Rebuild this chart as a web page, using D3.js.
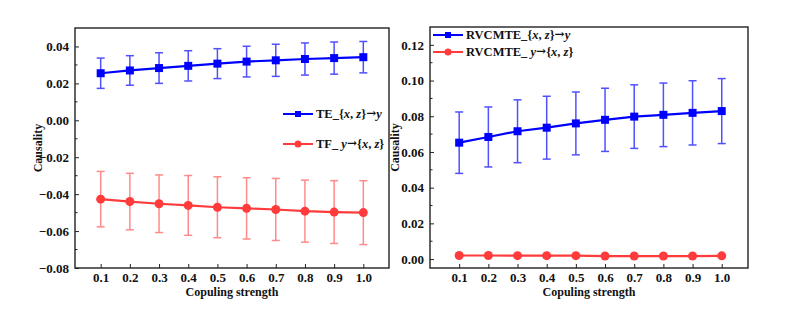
<!DOCTYPE html>
<html><head><meta charset="utf-8">
<script src="https://cdn.jsdelivr.net/npm/d3@7"></script>
<style>
body{margin:0;background:#fff;}
svg{display:block;}
svg text{font-family:"Liberation Serif","Times New Roman",serif !important;font-weight:bold;fill:#111;}
</style></head><body>
<svg id="c" width="794" height="317"></svg>
<script>
const couplings = [0.1,0.2,0.3,0.4,0.5,0.6,0.7,0.8,0.9,1.0];
const xTickLabels = ["0.1","0.2","0.3","0.4","0.5","0.6","0.7","0.8","0.9","1.0"];

// Left panel: TE
const teXZtoY = [0.0255,0.0270,0.0283,0.0295,0.0307,0.0318,0.0325,0.0332,0.0337,0.0342];
const teXZtoYErr = [0.0082,0.0080,0.0083,0.0082,0.0081,0.0083,0.0087,0.0087,0.0087,0.0085];
const teYtoXZ = [-0.0427,-0.0440,-0.0452,-0.0461,-0.0471,-0.0477,-0.0483,-0.0492,-0.0497,-0.0500];
const teYtoXZErr = [0.0150,0.0153,0.0156,0.0162,0.0165,0.0166,0.0168,0.0168,0.0170,0.0173];
const leftYTicks = [-0.08,-0.06,-0.04,-0.02,0.00,0.02,0.04];

// Right panel: RVCMTE
const rvXZtoY = [0.0652,0.0684,0.0716,0.0736,0.0760,0.0780,0.0798,0.0808,0.0819,0.0829];
const rvXZtoYErr = [0.0172,0.0168,0.0176,0.0176,0.0176,0.0177,0.0178,0.0178,0.0180,0.0182];
const rvYtoXZ = [0.0020,0.0020,0.0019,0.0019,0.0019,0.0017,0.0017,0.0017,0.0017,0.0018];
const rvYtoXZErr = [0.0002,0.0002,0.0002,0.0002,0.0002,0.0002,0.0002,0.0002,0.0002,0.0002];
const rightYTicks = [0.00,0.02,0.04,0.06,0.08,0.10,0.12];

const BLUE="#0000ff", BLUE_ERR="#5050ff", RED="#ff3b3b", RED_ERR="#ff8a8a";
const FONT='"Liberation Serif","Times New Roman",serif';
const svg = d3.select("#c");

function panel(cfg){
  const g = svg.append("g");
  const x = d3.scaleLinear().domain(cfg.xDomain).range([cfg.left,cfg.right]);
  const y = d3.scaleLinear().domain(cfg.yDomain).range([cfg.bottom,cfg.top]);
  const yAx = g.append("g").attr("transform",`translate(${cfg.left},0)`)
    .call(d3.axisLeft(y).tickValues(cfg.yTicks).tickFormat(d3.format(".2f")).tickSizeInner(-4).tickSizeOuter(0).tickPadding(6));
  yAx.attr("font-family",FONT).attr("font-size",13).attr("font-weight","bold");
  const minors=[];
  for(let i=0;i<cfg.yTicks.length-1;i++) minors.push((cfg.yTicks[i]+cfg.yTicks[i+1])/2);
  const last=cfg.yTicks[cfg.yTicks.length-1], step=cfg.yTicks[1]-cfg.yTicks[0];
  if(last+step/2<cfg.yDomain[1]) minors.push(last+step/2);
  g.selectAll(".mn").data(minors).enter().append("line")
    .attr("x1",cfg.left).attr("x2",cfg.left+2.5).attr("y1",d=>y(d)).attr("y2",d=>y(d))
    .attr("stroke","#222").attr("stroke-width",1);
  const xAx = g.append("g").attr("transform",`translate(0,${cfg.bottom})`)
    .call(d3.axisBottom(x).tickValues(couplings).tickFormat((d,i)=>xTickLabels[i]).tickSizeInner(-4).tickSizeOuter(0).tickPadding(5));
  xAx.attr("font-family",FONT).attr("font-size",13).attr("font-weight","bold");
  g.selectAll(".domain").remove();
  g.selectAll(".tick line").attr("stroke","#222");
  g.append("rect").attr("x",cfg.left).attr("y",cfg.top).attr("width",cfg.right-cfg.left).attr("height",cfg.bottom-cfg.top)
    .attr("fill","none").attr("stroke","#222").attr("stroke-width",1.4);
  g.append("text").attr("x",(cfg.left+cfg.right)/2).attr("y",cfg.bottom+28).attr("text-anchor","middle")
    .style("font-size","12px").text("Copuling strength");
  g.append("text").attr("transform",`translate(${cfg.yLabelX},${(cfg.top+cfg.bottom)/2}) rotate(-90)`)
    .attr("text-anchor","middle").style("font-size","12px").text("Causality");

  cfg.series.forEach(s=>{
    const sg=g.append("g");
    const eb = sg.selectAll(".eb").data(s.vals).enter().append("g");
    const cw=4;
    eb.append("line").attr("x1",(d,i)=>x(couplings[i])).attr("x2",(d,i)=>x(couplings[i]))
      .attr("y1",(d,i)=>y(d+s.err[i])).attr("y2",(d,i)=>y(d-s.err[i]));
    eb.append("line").attr("x1",(d,i)=>x(couplings[i])-cw).attr("x2",(d,i)=>x(couplings[i])+cw)
      .attr("y1",(d,i)=>y(d+s.err[i])).attr("y2",(d,i)=>y(d+s.err[i]));
    eb.append("line").attr("x1",(d,i)=>x(couplings[i])-cw).attr("x2",(d,i)=>x(couplings[i])+cw)
      .attr("y1",(d,i)=>y(d-s.err[i])).attr("y2",(d,i)=>y(d-s.err[i]));
    eb.selectAll("line").attr("stroke",s.errColor).attr("stroke-width",1.5);
    sg.append("path").datum(s.vals)
      .attr("d",d3.line().x((d,i)=>x(couplings[i])).y(d=>y(d)))
      .attr("fill","none").attr("stroke",s.color).attr("stroke-width",2.2);
    if(s.marker==="square"){
      sg.selectAll(".m").data(s.vals).enter().append("rect")
        .attr("x",(d,i)=>x(couplings[i])-4).attr("y",d=>y(d)-4).attr("width",8).attr("height",8).attr("fill",s.color);
    } else {
      sg.selectAll(".m").data(s.vals).enter().append("circle")
        .attr("cx",(d,i)=>x(couplings[i])).attr("cy",d=>y(d)).attr("r",4.5).attr("fill",s.color);
    }
  });

  cfg.legend.forEach((L,k)=>{
    const s=cfg.series[k];
    const ly=L.y;
    g.append("line").attr("x1",L.x).attr("x2",L.x+30).attr("y1",ly).attr("y2",ly).attr("stroke",s.color).attr("stroke-width",2);
    if(s.marker==="square") g.append("rect").attr("x",L.x+12).attr("y",ly-3).attr("width",6).attr("height",6).attr("fill",s.color);
    else g.append("circle").attr("cx",L.x+15).attr("cy",ly).attr("r",3.5).attr("fill",s.color);
    const t=g.append("text").attr("x",L.x+33).attr("y",ly+4).style("font-size","12.5px");
    L.parts.forEach(p=>{
      const ts=t.append("tspan").text(p[0]);
      if(p[1]) ts.style("font-style","italic");
      if(p[2]) ts.style("font-size","12px").style("font-family","'DejaVu Serif',serif").attr("dy","-1");
      else if(p[3]) ts.attr("dy","1");
    });
  });
}

const legXZ = (pre)=>[[pre+"{",0],["x",1],[", ",0],["z",1],["}",0],["\u2192",0,1],["y",1,0,1]];
const legY = (pre)=>[[pre,0],["y",1],["\u2192",0,1],["{",0,0,1],["x",1],[", ",0],["z",1],["}",0]];

panel({
  left:75,right:389,top:28,bottom:268,
  xDomain:[0.012,1.088], yDomain:[-0.08,0.05], yTicks:leftYTicks, yLabelX:42,
  series:[
    {vals:teXZtoY,err:teXZtoYErr,color:BLUE,errColor:BLUE_ERR,marker:"square"},
    {vals:teYtoXZ,err:teYtoXZErr,color:RED,errColor:RED_ERR,marker:"circle"}
  ],
  legend:[
    {x:283,y:114,parts:legXZ("TE_")},
    {x:283,y:144,parts:legY("TF_ ")}
  ]
});
panel({
  left:430,right:748,top:27,bottom:268,
  xDomain:[0.0,1.09], yDomain:[-0.005,0.13], yTicks:rightYTicks, yLabelX:399,
  series:[
    {vals:rvXZtoY,err:rvXZtoYErr,color:BLUE,errColor:BLUE_ERR,marker:"square"},
    {vals:rvYtoXZ,err:rvYtoXZErr,color:RED,errColor:RED_ERR,marker:"circle"}
  ],
  legend:[
    {x:433,y:35,parts:legXZ("RVCMTE_")},
    {x:433,y:52,parts:legY("RVCMTE_ ")}
  ]
});
</script></body></html>
